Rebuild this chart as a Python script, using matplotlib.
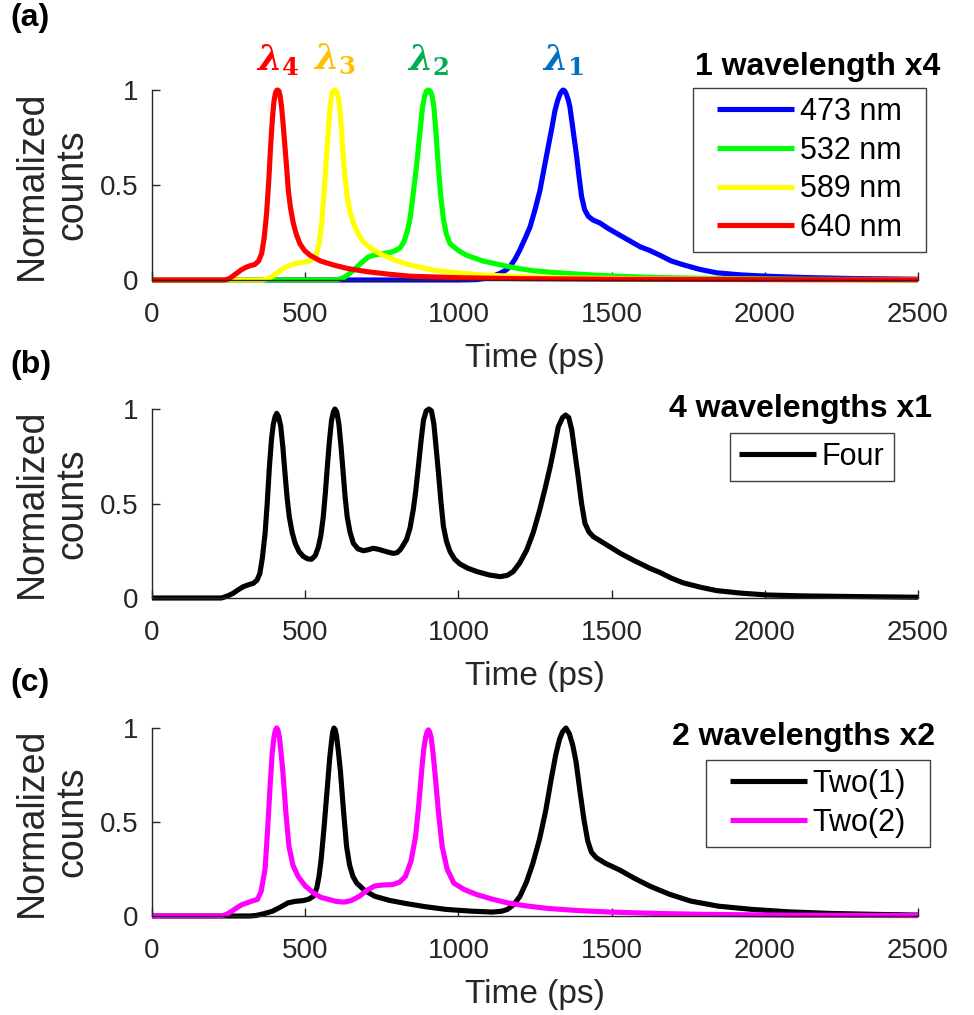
import matplotlib
matplotlib.use('Agg')
import matplotlib.pyplot as plt
from matplotlib.patches import Rectangle
from matplotlib.transforms import blended_transform_factory

plt.rcParams['font.family'] = ['Liberation Sans', 'DejaVu Sans']
plt.rcParams['mathtext.fontset'] = 'custom'
plt.rcParams['mathtext.rm'] = 'DejaVu Serif:bold'
plt.rcParams['mathtext.it'] = 'DejaVu Serif:italic:bold'
plt.rcParams['mathtext.bf'] = 'DejaVu Serif:italic:bold'

# ---------------- data (time in ps, normalized counts) ----------------
time_ticks = [0, 500, 1000, 1500, 2000, 2500]
count_ticks = [0, 0.5, 1]
count_tick_labels = ['0', '0.5', '1']

# panel (a): single wavelengths
curve_473 = [(0, 0), (1000, 0), (1060, 0.002), (1100, 0.012), (1136, 0.035), (1155, 0.052),
             (1168, 0.07), (1185, 0.11), (1201, 0.16), (1218, 0.22), (1234, 0.28), (1250, 0.37),
             (1266, 0.47), (1280, 0.59), (1293, 0.70), (1305, 0.80), (1315, 0.89), (1324, 0.945),
             (1332, 0.98), (1338, 0.995), (1342, 1.0), (1347, 0.995), (1353, 0.975),
             (1359, 0.945), (1364, 0.91), (1375, 0.78), (1386, 0.65), (1394, 0.54), (1402, 0.44),
             (1412, 0.37), (1424, 0.335), (1440, 0.315), (1462, 0.30), (1490, 0.27),
             (1517, 0.245), (1555, 0.21), (1593, 0.175), (1625, 0.155), (1658, 0.13),
             (1695, 0.10), (1734, 0.08), (1790, 0.055), (1843, 0.038), (1920, 0.027),
             (2006, 0.02), (2130, 0.013), (2278, 0.008), (2500, 0.004)]

curve_532 = [(0, 0), (590, 0), (610, 0.004), (625, 0.012), (640, 0.028), (657, 0.05),
             (673, 0.075), (690, 0.10), (705, 0.12), (722, 0.13), (750, 0.138), (777, 0.145),
             (795, 0.155), (810, 0.17), (822, 0.20), (832, 0.25), (842, 0.32), (853, 0.46),
             (864, 0.61), (874, 0.77), (883, 0.91), (890, 0.97), (896, 0.995), (902, 1.0),
             (908, 0.995), (914, 0.97), (920, 0.91), (927, 0.77), (934, 0.61), (942, 0.45),
             (951, 0.32), (961, 0.24), (973, 0.19), (1000, 0.155), (1027, 0.13), (1080, 0.10),
             (1136, 0.08), (1190, 0.062), (1244, 0.049), (1300, 0.041), (1353, 0.035),
             (1430, 0.027), (1517, 0.02), (1650, 0.013), (1800, 0.009), (2100, 0.004),
             (2500, 0.002)]

curve_589 = [(0, 0), (360, 0), (372, 0.004), (385, 0.012), (396, 0.022), (407, 0.035),
             (420, 0.052), (440, 0.07), (455, 0.08), (472, 0.088), (490, 0.093), (510, 0.098),
             (525, 0.11), (537, 0.135), (546, 0.20), (554, 0.30), (561, 0.45), (568, 0.61),
             (575, 0.78), (581, 0.91), (586, 0.97), (591, 0.995), (597, 1.0), (603, 0.99),
             (608, 0.96), (613, 0.90), (618, 0.80), (624, 0.65), (630, 0.54), (637, 0.44),
             (646, 0.36), (657, 0.30), (672, 0.245), (690, 0.20), (720, 0.16), (755, 0.13),
             (800, 0.10), (842, 0.079), (917, 0.052), (1000, 0.037), (1081, 0.026),
             (1300, 0.012), (1600, 0.006), (2000, 0.003), (2500, 0.001)]

curve_640 = [(0, 0), (235, 0), (245, 0.003), (255, 0.01), (265, 0.022), (276, 0.035),
             (290, 0.052), (304, 0.065), (320, 0.075), (336, 0.082), (348, 0.10), (358, 0.14),
             (366, 0.22), (374, 0.35), (381, 0.52), (387, 0.70), (393, 0.85), (398, 0.94),
             (403, 0.985), (407, 0.998), (410, 1.0), (414, 0.995), (418, 0.97), (423, 0.91),
             (428, 0.82), (434, 0.70), (440, 0.58), (445, 0.47), (452, 0.38), (461, 0.30),
             (471, 0.24), (483, 0.19), (498, 0.155), (516, 0.13), (550, 0.10), (592, 0.079),
             (640, 0.06), (701, 0.044), (770, 0.031), (842, 0.02), (1000, 0.012),
             (1200, 0.007), (1500, 0.004), (2000, 0.002), (2500, 0.001)]

# panel (b): four wavelengths at once
curve_four = [(0, 0), (225, 0), (233, 0.003), (248, 0.012), (265, 0.025), (280, 0.042),
              (298, 0.06), (315, 0.07), (331, 0.078), (343, 0.095), (352, 0.13), (360, 0.21),
              (369, 0.34), (376, 0.50), (383, 0.69), (390, 0.84), (396, 0.92), (402, 0.96),
              (407, 0.977), (413, 0.96), (420, 0.91), (427, 0.80), (434, 0.66), (441, 0.53),
              (448, 0.43), (457, 0.35), (467, 0.29), (480, 0.245), (494, 0.22), (508, 0.207),
              (521, 0.205), (533, 0.225), (543, 0.27), (551, 0.33), (559, 0.43), (566, 0.56),
              (572, 0.69), (579, 0.83), (586, 0.94), (592, 0.985), (597, 1.0), (603, 0.985),
              (610, 0.92), (617, 0.80), (624, 0.66), (630, 0.54), (637, 0.43), (646, 0.35),
              (657, 0.29), (672, 0.26), (690, 0.25), (705, 0.255), (722, 0.263), (738, 0.258),
              (755, 0.25), (772, 0.242), (788, 0.236), (800, 0.24), (810, 0.255), (820, 0.28),
              (831, 0.31), (842, 0.37), (853, 0.47), (861, 0.57), (869, 0.69), (878, 0.83),
              (886, 0.94), (895, 0.99), (904, 1.0), (912, 0.99), (920, 0.92), (927, 0.80),
              (935, 0.66), (943, 0.51), (951, 0.38), (961, 0.30), (973, 0.245), (988, 0.205),
              (1005, 0.18), (1030, 0.158), (1060, 0.14), (1100, 0.122), (1136, 0.113),
              (1160, 0.12), (1179, 0.14), (1200, 0.185), (1223, 0.254), (1245, 0.35),
              (1266, 0.47), (1283, 0.58), (1299, 0.69), (1313, 0.80), (1326, 0.906),
              (1340, 0.955), (1350, 0.968), (1360, 0.955), (1370, 0.89), (1380, 0.77),
              (1391, 0.64), (1402, 0.50), (1413, 0.395), (1426, 0.35), (1440, 0.325),
              (1465, 0.30), (1495, 0.27), (1530, 0.235), (1571, 0.20), (1625, 0.157),
              (1658, 0.135), (1695, 0.105), (1734, 0.08), (1790, 0.057), (1843, 0.039),
              (1920, 0.026), (2006, 0.016), (2130, 0.011), (2278, 0.008), (2500, 0.004)]

# panel (c): two wavelengths, twice
curve_two1 = [(0, 0), (320, 0), (340, 0.003), (365, 0.012), (394, 0.026), (420, 0.048),
              (444, 0.07), (468, 0.078), (494, 0.082), (512, 0.09), (527, 0.105), (538, 0.15),
              (545, 0.21), (552, 0.30), (562, 0.48), (572, 0.68), (580, 0.84), (586, 0.93),
              (590, 0.98), (594, 1.0), (598, 0.99), (602, 0.96), (608, 0.88), (615, 0.77),
              (625, 0.56), (635, 0.37), (645, 0.27), (656, 0.21), (668, 0.175), (695, 0.135),
              (727, 0.105), (775, 0.083), (827, 0.067), (890, 0.05), (960, 0.035),
              (1040, 0.026), (1110, 0.021), (1140, 0.025), (1160, 0.035), (1180, 0.06),
              (1201, 0.105), (1222, 0.18), (1243, 0.28), (1265, 0.41), (1285, 0.56),
              (1302, 0.72), (1318, 0.86), (1330, 0.94), (1340, 0.98), (1351, 1.0), (1362, 0.97),
              (1373, 0.91), (1384, 0.82), (1397, 0.66), (1410, 0.51), (1422, 0.40),
              (1434, 0.34), (1450, 0.31), (1480, 0.28), (1526, 0.245), (1575, 0.20),
              (1626, 0.158), (1690, 0.115), (1759, 0.079), (1850, 0.052), (1959, 0.035),
              (2080, 0.022), (2209, 0.014), (2350, 0.009), (2500, 0.005)]

curve_two2 = [(0, 0), (227, 0), (245, 0.01), (260, 0.025), (277, 0.044), (293, 0.06),
              (310, 0.07), (327, 0.08), (344, 0.088), (356, 0.13), (369, 0.25), (377, 0.45),
              (385, 0.68), (392, 0.86), (398, 0.95), (403, 0.99), (407, 1.0), (411, 0.99),
              (416, 0.95), (421, 0.87), (427, 0.77), (437, 0.55), (447, 0.37), (460, 0.27),
              (477, 0.21), (500, 0.16), (527, 0.123), (550, 0.10), (577, 0.088), (600, 0.078),
              (627, 0.074), (650, 0.082), (677, 0.105), (700, 0.135), (727, 0.16), (755, 0.165),
              (785, 0.167), (808, 0.18), (827, 0.21), (845, 0.29), (860, 0.42), (870, 0.58),
              (880, 0.77), (887, 0.89), (893, 0.95), (898, 0.98), (902, 0.99), (906, 0.98),
              (911, 0.95), (917, 0.87), (923, 0.77), (935, 0.55), (947, 0.37), (963, 0.25),
              (985, 0.175), (1020, 0.14), (1060, 0.114), (1110, 0.09), (1160, 0.07),
              (1220, 0.054), (1293, 0.04), (1390, 0.029), (1493, 0.021), (1640, 0.014),
              (1792, 0.009), (2100, 0.004), (2500, 0.002)]

lambda_labels = [r'$\lambda_{4}$', r'$\lambda_{3}$', r'$\lambda_{2}$', r'$\lambda_{1}$']
lambda_peaks = [410, 597, 902, 1342]
lambda_colors = ['#FF0000', '#FFC000', '#00B050', '#0070C0']

# ---------------- figure ----------------
W, H = 974, 1015
fig = plt.figure(figsize=(W / 100, H / 100), dpi=100)


def make_ax(top_px, bottom_px):
    return fig.add_axes([152 / W, 1 - bottom_px / H, 766 / W, (bottom_px - top_px) / H])


AX_COLOR = '#262626'


def style(ax, hpx):
    ax.set_xlim(0, 2500)
    ax.set_ylim(0, 1)
    for s in ['top', 'right']:
        ax.spines[s].set_visible(False)
    for s in ['left', 'bottom']:
        ax.spines[s].set_color(AX_COLOR)
        ax.spines[s].set_linewidth(1.0)
    ax.set_xticks(time_ticks)
    ax.set_yticks(count_ticks)
    ax.set_yticklabels(count_tick_labels)
    ax.tick_params(direction='in', length=6, width=1, labelsize=20, colors=AX_COLOR,
                   labelcolor='#262626')
    ax.tick_params(axis='x', pad=16)
    ax.tick_params(axis='y', pad=10)
    ax.text(0.5, -87 / hpx, 'Time (ps)', transform=ax.transAxes, ha='center',
            va='baseline', fontsize=24, color='#262626')
    ax.text((52 - 152) / 766, 0.5, 'Normalized\ncounts', transform=ax.transAxes,
            rotation=90, ha='center', va='center', multialignment='center',
            fontsize=27, color='#262626', linespacing=1.15)


def xy(curve):
    return [p[0] for p in curve], [p[1] for p in curve]


LW = 3.7
kw = dict(lw=LW, clip_on=False, solid_joinstyle='round', solid_capstyle='butt')

leg_kw = dict(loc='upper left', fontsize=22, handlelength=2.5, handletextpad=0.2,
              borderpad=0.3, labelspacing=0.28, frameon=False, borderaxespad=0)
legends = []


def add_legend(ax, left_px, top_px, bottom_axis_px, hpx, extra):
    lg = ax.legend(bbox_to_anchor=((left_px + extra - 152) / 766,
                                   (bottom_axis_px - top_px) / hpx), **leg_kw)
    legends.append((lg, extra))


# ---- panel (a) ----
axa = make_ax(90, 280)
style(axa, 190)
axa.plot(*xy(curve_473), color='#0000FF', label='473 nm', **kw)
axa.plot(*xy(curve_532), color='#00FF00', label='532 nm', **kw)
axa.plot(*xy(curve_589), color='#FFFF00', label='589 nm', **kw)
axa.plot(*xy(curve_640), color='#FF0000', label='640 nm', **kw)

trans = blended_transform_factory(axa.transData, axa.transAxes)
for lab, pk, col in zip(lambda_labels, lambda_peaks, lambda_colors):
    axa.text(pk, (280 - 60) / 190, lab, transform=trans, ha='center', va='center',
             fontsize=25, color=col)
axa.text((940 - 152) / 766, (280 - 75) / 190, '1 wavelength x4', transform=axa.transAxes,
         ha='right', va='baseline', fontsize=23, fontweight='bold')
add_legend(axa, 693, 88, 280, 190, 15)

# ---- panel (b) ----
axb = make_ax(409, 598)
style(axb, 189)
axb.plot(*xy(curve_four), color='black', label='Four', **kw)
axb.text((932 - 152) / 766, (598 - 417) / 189, '4 wavelengths x1', transform=axb.transAxes,
         ha='right', va='baseline', fontsize=23, fontweight='bold')
add_legend(axb, 730, 433, 598, 189, 0)

# ---- panel (c) ----
axc = make_ax(728, 916)
style(axc, 188)
axc.plot(*xy(curve_two1), color='black', label='Two(1)', **kw)
axc.plot(*xy(curve_two2), color='#FF00FF', label='Two(2)', **kw)
axc.text((935 - 152) / 766, (916 - 745) / 188, '2 wavelengths x2', transform=axc.transAxes,
         ha='right', va='baseline', fontsize=23, fontweight='bold')
add_legend(axc, 706, 760, 916, 188, 15)

# panel letters
for letter, ypx in [('(a)', 18), ('(b)', 365), ('(c)', 683)]:
    fig.text(10 / W, 1 - ypx / H, letter, ha='left', va='center', fontsize=23,
             fontweight='bold')

# legend frames (MATLAB-like padding)
fig.canvas.draw()
for lg, extra in legends:
    bb = lg.get_window_extent()
    x0 = bb.x0 - extra
    x1 = bb.x1 + extra
    fig.add_artist(Rectangle((x0 / W, bb.y0 / H), (x1 - x0) / W, bb.height / H,
                             transform=fig.transFigure, fill=False, edgecolor='#404040',
                             linewidth=1.0))

fig.savefig('out.png', dpi=100, facecolor='white')
